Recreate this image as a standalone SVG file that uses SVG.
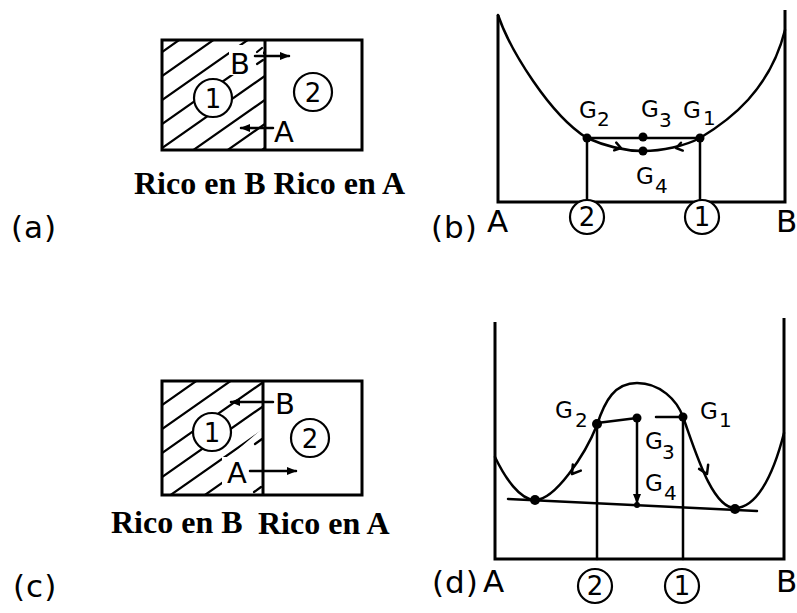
<svg xmlns="http://www.w3.org/2000/svg" width="797" height="613" viewBox="0 0 797 613">
<style>
.ln{fill:none;stroke:#000;stroke-width:2.5;stroke-linecap:round;stroke-linejoin:round}
.bx{fill:none;stroke:#000;stroke-width:3}
.ht{fill:none;stroke:#000;stroke-width:2.2;stroke-linecap:round}
.ci{fill:#fff;stroke:#000;stroke-width:2.2}
.lb{font-family:"DejaVu Sans","Liberation Sans",sans-serif;font-size:29px;fill:#000}
.ax{font-family:"DejaVu Sans","Liberation Sans",sans-serif;font-size:31px;fill:#000}
.num{font-family:"DejaVu Sans","Liberation Sans",sans-serif;font-size:26px;fill:#000;text-anchor:middle}
.g{font-family:"DejaVu Sans","Liberation Sans",sans-serif;font-size:23px;fill:#000}
.sub{font-family:"DejaVu Sans","Liberation Sans",sans-serif;font-size:20px;fill:#000}
.rc{font-family:"Liberation Serif","Times New Roman",serif;font-weight:bold;font-size:32px;fill:#000}
.pl{font-family:"DejaVu Sans","Liberation Sans",sans-serif;font-size:31px;fill:#000;letter-spacing:1px}
.dot{fill:#000}
</style>
<defs>
<marker id="ah" viewBox="0 0 10 8" refX="9" refY="4" markerWidth="11" markerHeight="8" markerUnits="userSpaceOnUse" orient="auto">
<path d="M0,0 L10,4 L0,8 Z" fill="#000"/>
</marker>
<clipPath id="clipA"><rect x="162" y="40" width="103" height="110"/></clipPath>
<clipPath id="clipC"><polygon points="162,381 263,381 263,428 228,458 232,495 162,495"/></clipPath>
</defs>

<!-- Panel (a) -->
<g id="panel-a">
<g clip-path="url(#clipA)">
<path class="ht" d="M162,52 L312,-53 M162,76 L312,-29 M162,100 L312,-5 M162,124 L312,19 M162,148 L312,43 M162,172 L312,67 M162,196 L312,91 M162,220 L312,115"/>
</g>
<rect x="229" y="45" width="34" height="30" fill="#fff"/>
<path class="ht" d="M257,64 L263,60 M257,52 L262,48"/>
<rect class="bx" x="162" y="40" width="200" height="110"/>
<line class="bx" x1="265" y1="40" x2="265" y2="150"/>
<g id="a-c1"><circle class="ci" cx="213" cy="98" r="19"/><text class="num" x="213" y="108">1</text></g>
<g id="a-c2"><circle class="ci" cx="313" cy="92" r="19"/><text class="num" x="313" y="102">2</text></g>
<text class="lb" x="230" y="74">B</text>
<text class="lb" x="274" y="142">A</text>
<text class="rc" x="134" y="194">Rico en B Rico en A</text>
<text class="pl" x="11" y="238">(a)</text>
</g>

<!-- Panel (c) -->
<g id="panel-c">
<g clip-path="url(#clipC)">
<path class="ht" d="M162,405 L312,300 M162,429 L312,324 M162,453 L312,348 M162,477 L312,372 M162,501 L312,396 M162,525 L312,420 M162,549 L312,444 M162,573 L312,468"/>
</g>
<rect x="222" y="457" width="30" height="29" fill="#fff"/>
<path class="ht" d="M255,444 L262,439 M254,492 L261,487"/>
<rect class="bx" x="162" y="381" width="200" height="114"/>
<line class="bx" x1="263" y1="381" x2="263" y2="495"/>
<g id="c-c1"><circle class="ci" cx="212" cy="432" r="19"/><text class="num" x="212" y="442">1</text></g>
<g id="c-c2"><circle class="ci" cx="310" cy="438" r="19"/><text class="num" x="310" y="448">2</text></g>
<text class="lb" x="275" y="414">B</text>
<text class="lb" x="227" y="483">A</text>
<text class="rc" x="111" y="533">Rico en B</text>
<text class="rc" x="258" y="534">Rico en A</text>
<text class="pl" x="13" y="597">(c)</text>
</g>

<!-- Panel (b) -->
<g id="panel-b">
<path class="bx" d="M498,15 L498,202 L785,202 L785,10"/>
<line class="ln" x1="587" y1="138" x2="587" y2="202"/>
<line class="ln" x1="700" y1="138" x2="700" y2="202"/>
<path class="ln" d="M498,15 C510,50 550,115 587,138 C605,146 625,151 643,151 C662,151 685,146 700,138 C730,120 770,90 785,30"/>
<line class="ln" x1="587" y1="138" x2="700" y2="138"/>
<circle class="dot" cx="587" cy="138" r="4.5"/>
<circle class="dot" cx="643" cy="137" r="4.5"/>
<circle class="dot" cx="700" cy="138" r="4.5"/>
<circle class="dot" cx="643" cy="151" r="4.5"/>
<path class="ln" stroke-width="1.8" transform="translate(621,148) rotate(15)" d="M-6,-4 L0,0 L-6,4"/>
<path class="ln" stroke-width="1.8" transform="translate(676,148) rotate(167)" d="M-6,-4 L0,0 L-6,4"/>
<text class="g" x="579" y="118">G</text><text class="sub" x="597" y="126">2</text>
<text class="g" x="641" y="117">G</text><text class="sub" x="659" y="127">3</text>
<text class="g" x="683" y="118">G</text><text class="sub" x="703" y="125">1</text>
<text class="g" x="636" y="184">G</text><text class="sub" x="655" y="193">4</text>
<text class="ax" x="487" y="232">A</text>
<text class="ax" x="776" y="232">B</text>
<g id="b-c2"><circle class="ci" cx="587" cy="217" r="17"/><text class="num" x="587" y="226">2</text></g>
<g id="b-c1"><circle class="ci" cx="702" cy="217" r="17"/><text class="num" x="702" y="226">1</text></g>
<text class="pl" x="431" y="238">(b)</text>
</g>

<!-- Panel (d) -->
<g id="panel-d">
<path class="bx" d="M495,322 L495,559 L784,559 L784,318"/>
<line class="ln" x1="597" y1="425" x2="597" y2="559"/>
<line class="ln" x1="683" y1="417" x2="683" y2="559"/>
<line class="ln" x1="508" y1="499" x2="757" y2="511"/>
<path class="ln" d="M495,457 C505,478 520,500 535,500 C555,500 585,455 597,425 C605,400 615,383 637,383 C660,383 677,400 683,417 C695,450 712,508 735,508 C755,508 772,480 784,433"/>
<path class="ln" d="M597,423 L637,418 M656,417 L683,417"/>
<line class="ln" x1="637" y1="418" x2="637" y2="503" marker-end="url(#ah)"/>
<circle class="dot" cx="597" cy="424" r="5"/>
<circle class="dot" cx="637" cy="418" r="4.5"/>
<circle class="dot" cx="683" cy="417" r="4.5"/>
<circle class="dot" cx="535" cy="500" r="5"/>
<circle class="dot" cx="735" cy="509" r="5"/>
<circle class="dot" cx="637" cy="505" r="3"/>
<path class="ln" stroke-width="2" transform="translate(572,474) rotate(127)" d="M-8,-5 L0,0 L-8,5"/>
<path class="ln" stroke-width="2" transform="translate(707,474) rotate(65)" d="M-8,-5 L0,0 L-8,5"/>
<text class="g" x="555" y="418">G</text><text class="sub" x="575" y="427">2</text>
<text class="g" x="700" y="419">G</text><text class="sub" x="719" y="427">1</text>
<text class="g" x="645" y="449">G</text><text class="sub" x="662" y="459">3</text>
<text class="g" x="645" y="491">G</text><text class="sub" x="664" y="500">4</text>
<text class="ax" x="483" y="592">A</text>
<text class="ax" x="776" y="592">B</text>
<g id="d-c2"><circle class="ci" cx="595" cy="586" r="17"/><text class="num" x="595" y="595">2</text></g>
<g id="d-c1"><circle class="ci" cx="682" cy="586" r="17"/><text class="num" x="682" y="595">1</text></g>
<text class="pl" x="432" y="593">(d)</text>
</g>

<!-- connectors: arrows -->
<g id="connectors">
<line class="ln" x1="255" y1="56" x2="289" y2="56" marker-end="url(#ah)"/>
<line class="ln" x1="273" y1="128" x2="241" y2="128" marker-end="url(#ah)"/>
<line class="ln" x1="273" y1="402" x2="231" y2="402" marker-end="url(#ah)"/>
<line class="ln" x1="250" y1="471" x2="296" y2="471" marker-end="url(#ah)"/>
</g>
</svg>
